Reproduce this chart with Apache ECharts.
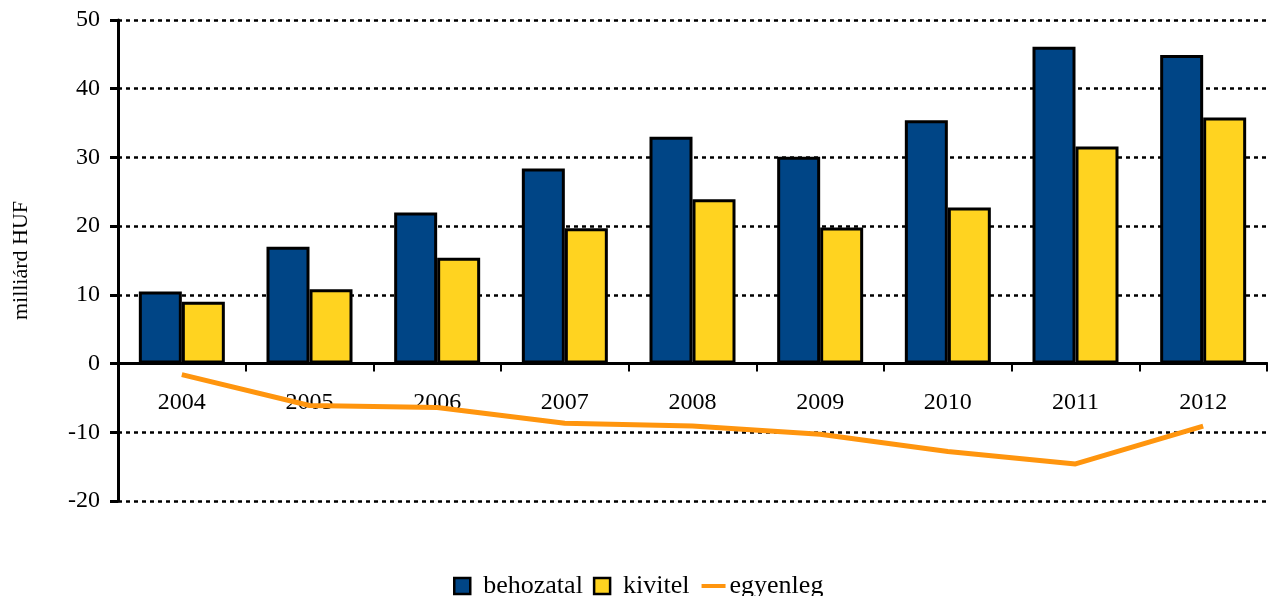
<!DOCTYPE html>
<html><head><meta charset="utf-8">
<script src="https://cdn.jsdelivr.net/npm/echarts@6/dist/echarts.min.js"></script>
<style>html,body{margin:0;padding:0;background:#fff}#c{width:1268px;height:596px}</style>
</head><body><div id="c"></div>
<script>
var categories = ['2004','2005','2006','2007','2008','2009','2010','2011','2012'];
var behozatal = [10.5, 17.0, 22.0, 28.4, 33.0, 30.1, 35.4, 46.1, 44.9];
var kivitel = [9.0, 10.8, 15.4, 19.7, 23.9, 19.8, 22.7, 31.6, 35.8];
var egyenleg = [-1.6, -6.1, -6.4, -8.7, -9.1, -10.3, -12.8, -14.6, -9.1];
var yTicks = {min: -20, max: 50, interval: 10};

var font = 'Liberation Serif';
var sq = 'path://M0,0H16V16H0Z';
var chart = echarts.init(document.getElementById('c'));
chart.setOption({
  animation: false,
  textStyle: {fontFamily: font, color: '#000'},
  grid: {left: 118, right: 1, top: 20, bottom: 95, containLabel: false},
  legend: {
    bottom: -8, left: 448, itemGap: 10, itemWidth: 24, itemHeight: 16,
    symbolKeepAspect: true,
    textStyle: {fontFamily: font, fontSize: 26, color: '#000'},
    data: [
      {name: 'behozatal', icon: sq, itemStyle: {borderColor: '#000', borderWidth: 2.5},
       textStyle: {padding: [0, 0, 0, 4]}},
      {name: 'kivitel', icon: sq, itemStyle: {borderColor: '#000', borderWidth: 2.5},
       textStyle: {padding: [0, 0, 0, 4]}},
      {name: 'egyenleg', itemStyle: {color: 'rgba(0,0,0,0)', borderWidth: 0, opacity: 0},
       lineStyle: {width: 4, color: '#FF950E'}, textStyle: {padding: [0, 0, 0, -1]}}
    ]
  },
  xAxis: {
    type: 'category', data: categories,
    axisLine: {onZero: true, lineStyle: {color: '#000', width: 3}},
    axisTick: {show: true, length: 8, lineStyle: {color: '#000', width: 2}},
    axisLabel: {fontFamily: font, fontSize: 24, color: '#000', margin: -110},
    splitLine: {show: false}
  },
  yAxis: {
    type: 'value', min: yTicks.min, max: yTicks.max, interval: yTicks.interval,
    name: 'milliárd HUF', nameLocation: 'middle', nameGap: 86, nameRotate: 90,
    nameTextStyle: {fontFamily: font, fontSize: 22, color: '#000'},
    axisLine: {show: true, lineStyle: {color: '#000', width: 3}},
    axisTick: {show: true, length: 8, lineStyle: {color: '#000', width: 3}},
    axisLabel: {fontFamily: font, fontSize: 24, color: '#000', margin: 18},
    splitLine: {show: true, lineStyle: {color: '#000', width: 2.5, type: [4, 4]}}
  },
  series: [
    {name: 'behozatal', type: 'bar', data: behozatal, barWidth: 43, barGap: '0%',
     itemStyle: {color: '#004586', borderColor: '#000', borderWidth: 3}},
    {name: 'kivitel', type: 'bar', data: kivitel, barWidth: 43, barGap: '0%',
     itemStyle: {color: '#FFD320', borderColor: '#000', borderWidth: 3}},
    {name: 'egyenleg', type: 'line', data: egyenleg, symbol: 'none', z: 5,
     lineStyle: {color: '#FF950E', width: 5}, itemStyle: {color: '#FF950E'}}
  ]
});
</script></body></html>
